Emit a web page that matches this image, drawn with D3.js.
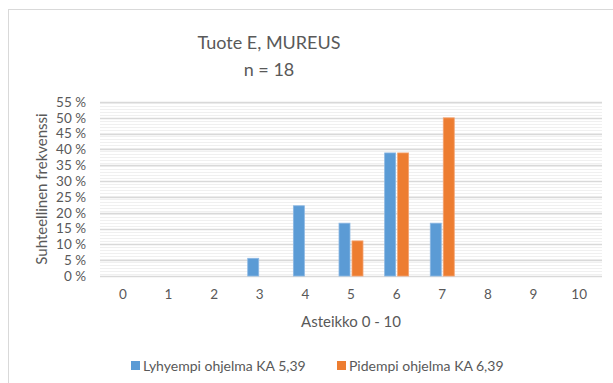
<!DOCTYPE html>
<html>
<head>
<meta charset="utf-8">
<script src="https://cdn.jsdelivr.net/npm/d3@7"></script>
<style>
  body { margin: 0; background: #fff; }
  svg text { font-family: Lato, "Liberation Sans", sans-serif; fill: #595959; }
</style>
</head>
<body>
<div id="chart"></div>
<script>
var width = 613, height = 383;
var margin = {top: 102, right: 11, bottom: 107, left: 100};

// data
var categories = ["0", "1", "2", "3", "4", "5", "6", "7", "8", "9", "10"];
var shortProgram = [0, 0, 0, 0.056, 0.222, 0.167, 0.389, 0.167, 0, 0, 0];
var longProgram = [0, 0, 0, 0, 0, 0.111, 0.389, 0.5, 0, 0, 0];
var seriesNames = ["Lyhyempi ohjelma KA 5,39", "Pidempi ohjelma KA 6,39"];
var seriesColors = ["#5b9bd5", "#ed7d31"];
var seriesStroke = ["#8db8e3", "#f3a473"];
var yTicks = [0, 0.05, 0.1, 0.15, 0.2, 0.25, 0.3, 0.35, 0.4, 0.45, 0.5, 0.55];

var plotW = width - margin.left - margin.right,
    plotH = height - margin.top - margin.bottom;

var svg = d3.select("#chart")
  .append("svg")
    .attr("width", width)
    .attr("height", height);

// striped background pattern
var defs = svg.append("defs");
var pat = defs.append("pattern")
    .attr("id", "stripes")
    .attr("patternUnits", "userSpaceOnUse")
    .attr("width", 6)
    .attr("height", 3);
pat.append("rect").attr("width", 6).attr("height", 3).attr("fill", "#ffffff");
pat.append("rect").attr("y", 1).attr("width", 6).attr("height", 1).attr("fill", "#f0f0f0");

// chart frame
svg.append("rect")
    .attr("x", 8.5)
    .attr("y", 9.5)
    .attr("width", width + 20)
    .attr("height", height + 20)
    .attr("fill", "none")
    .attr("stroke", "#d9d9d9");

var g = svg.append("g")
    .attr("transform", "translate(" + margin.left + "," + margin.top + ")");

var x = d3.scaleBand().domain(categories).range([0, plotW]);
var y = d3.scaleLinear().domain([0, 0.55]).range([plotH, 0]);

g.append("rect")
    .attr("width", plotW)
    .attr("height", plotH)
    .attr("fill", "url(#stripes)");

// gridlines
g.selectAll(".grid")
  .data(yTicks).enter()
  .append("line")
    .attr("class", "grid")
    .attr("x1", 0)
    .attr("x2", plotW)
    .attr("y1", function(d) { return Math.round(y(d)) + 0.5; })
    .attr("y2", function(d) { return Math.round(y(d)) + 0.5; })
    .attr("stroke", "#d9d9d9")
    .attr("stroke-width", 1.5);

// y axis labels
var yAxis = d3.axisLeft(y)
    .tickValues(yTicks)
    .tickSize(0)
    .tickPadding(14)
    .tickFormat(function(d) { return Math.round(d * 100) + " %"; });
var ya = g.append("g").call(yAxis);
ya.select(".domain").remove();
ya.selectAll("text").style("font-size", "13.5px").style("fill", "#595959").style("font-family", "Lato, sans-serif");

// x axis labels
var xAxis = d3.axisBottom(x).tickSize(0).tickPadding(13);
var xa = g.append("g")
    .attr("transform", "translate(0," + plotH + ")")
    .call(xAxis);
xa.select(".domain").remove();
xa.selectAll("text").style("font-size", "13.5px").style("fill", "#595959").style("font-family", "Lato, sans-serif");

// bars
var barW = 11, barGap = 2;
var series = [shortProgram, longProgram];
series.forEach(function(vals, s) {
  g.selectAll(".bar" + s)
    .data(vals).enter()
    .append("rect")
      .attr("class", "bar" + s)
      .attr("x", function(d, i) {
        var c = x(categories[i]) + x.bandwidth() / 2;
        return s == 0 ? c - barGap / 2 - barW : c + barGap / 2;
      })
      .attr("y", function(d) { return y(d); })
      .attr("width", barW)
      .attr("height", function(d) { return plotH - y(d); })
      .attr("fill", seriesColors[s])
      .attr("stroke", seriesStroke[s])
      .attr("stroke-width", 0.8)
      .style("display", function(d) { return d > 0 ? null : "none"; });
});

// titles
svg.append("text")
    .attr("x", 269)
    .attr("y", 49)
    .attr("text-anchor", "middle")
    .style("font-size", "18px")
    .text("Tuote E, MUREUS");
svg.append("text")
    .attr("x", 269)
    .attr("y", 76)
    .attr("text-anchor", "middle")
    .style("font-size", "18px")
    .text("n = 18");

svg.append("text")
    .attr("transform", "translate(47," + (margin.top + plotH / 2) + ") rotate(-90)")
    .attr("text-anchor", "middle")
    .style("font-size", "15px")
    .text("Suhteellinen frekvenssi");

svg.append("text")
    .attr("x", margin.left + plotW / 2)
    .attr("y", 327)
    .attr("text-anchor", "middle")
    .style("font-size", "15px")
    .text("Asteikko 0 - 10");

// legend
var legendX = [131, 337];
var legend = svg.selectAll(".legend")
  .data(seriesNames).enter()
  .append("g")
    .attr("class", "legend")
    .attr("transform", function(d, i) { return "translate(" + legendX[i] + ",361)"; });
legend.append("rect")
    .attr("width", 9)
    .attr("height", 9)
    .attr("fill", function(d, i) { return seriesColors[i]; });
legend.append("text")
    .attr("x", 12)
    .attr("y", 9.5)
    .style("font-size", "14px")
    .text(function(d) { return d; });
</script>
</body>
</html>
